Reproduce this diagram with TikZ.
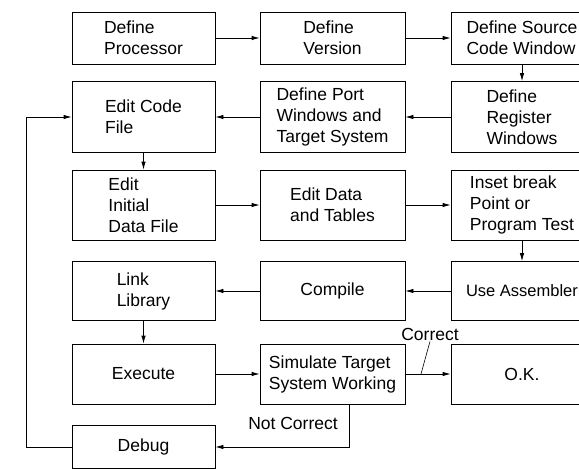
\documentclass[tikz,border=0pt]{standalone}
\usepackage{fontspec}
\setmainfont{Liberation Sans}
\usetikzlibrary{arrows.meta}
\tikzset{
  caja/.style={draw, line width=0.8pt, minimum width=143pt, align=left, inner sep=0pt},
  flecha/.style={line width=0.8pt, -{Latex[length=8pt,width=4.5pt]}},
  etiqueta/.style={inner sep=1pt}
}
\begin{document}
\begin{tikzpicture}[x=1pt,y=-1pt,font=\fontsize{17.5}{21}\selectfont]
		% marco
		\useasboundingbox (0,0) rectangle (579,469);
		\clip (0,0) rectangle (579,469);
		
		% fila 1
		\node[caja, minimum height=52pt] (proc) at (143.5,38) {Define\\Processor};
		\node[caja, minimum height=52pt, minimum width=145pt] (version) at (332.5,38) {Define\\Version};
		\node[caja, minimum height=52pt, minimum width=142pt] (source) at (522,38) {Define Source\\Code Window};
		
		% fila 2
		\node[caja, minimum height=71pt] (code) at (143.5,117) {Edit Code\\File};
		\node[caja, minimum height=71pt, minimum width=145pt] (port) at (332.5,117) {Define Port\\Windows and\\Target System};
		\node[caja, minimum height=71pt, minimum width=142pt] (register) at (522,117) {Define\\Register\\Windows};
		
		% fila 3
		\node[caja, minimum height=70pt] (initial) at (143.5,205) {Edit\\Initial\\Data File};
		\node[caja, minimum height=70pt, minimum width=145pt] (data) at (332.5,205) {Edit Data\\and Tables};
		\node[caja, minimum height=70pt, minimum width=142pt] (inset) at (522,205) {Inset break\\Point or\\Program Test};
		
		% fila 4
		\node[caja, minimum height=59pt] (link) at (143.5,291) {Link\\Library};
		\node[caja, minimum height=59pt, minimum width=145pt] (compile) at (332.5,291) {Compile};
		\node[caja, minimum height=59pt, minimum width=142pt, font=\fontsize{16.5}{21}\selectfont] (assembler) at (522,291) {Use Assembler};
		
		% fila 5
		\node[caja, minimum height=60pt] (execute) at (143.5,374) {Execute};
		\node[caja, minimum height=60pt, minimum width=145pt] (simulate) at (332.5,374) {Simulate Target\\System Working};
		\node[caja, minimum height=60pt, minimum width=142pt] (ok) at (522,374) {O.K.};
		
		% fila 6
		\node[caja, minimum height=43pt] (debug) at (143.5,447) {Debug};
		
		% flechas
		\draw[flecha] (proc) -- (version);
		\draw[flecha] (version) -- (source);
		\draw[flecha] (source) -- (register);
		\draw[flecha] (register) -- (port);
		\draw[flecha] (port) -- (code);
		\draw[flecha] (code) -- (initial);
		\draw[flecha] (initial) -- (data);
		\draw[flecha] (data) -- (inset);
		\draw[flecha] (inset) -- (assembler);
		\draw[flecha] (assembler) -- (compile);
		\draw[flecha] (compile) -- (link);
		\draw[flecha] (link) -- (execute);
		\draw[flecha] (execute) -- (simulate);
		\draw[flecha] (simulate) -- (ok);
		
		% correcto / no correcto
		\node[etiqueta] (correct) at (430,334) {Correct};
		\coordinate (cc) at (421,374);
		\draw[line width=0.6pt] (correct.south) -- (cc);
		\node[etiqueta] (notcorrect) at (293,423) {Not Correct};
		\draw[flecha] ([xshift=16.5pt]simulate.south) |- (debug.east);
		
		% retorno
		\coordinate (ret) at (26,447);
		\draw[flecha] (debug.west) -- (ret) |- (code.west);
	\end{tikzpicture}
\end{document}
